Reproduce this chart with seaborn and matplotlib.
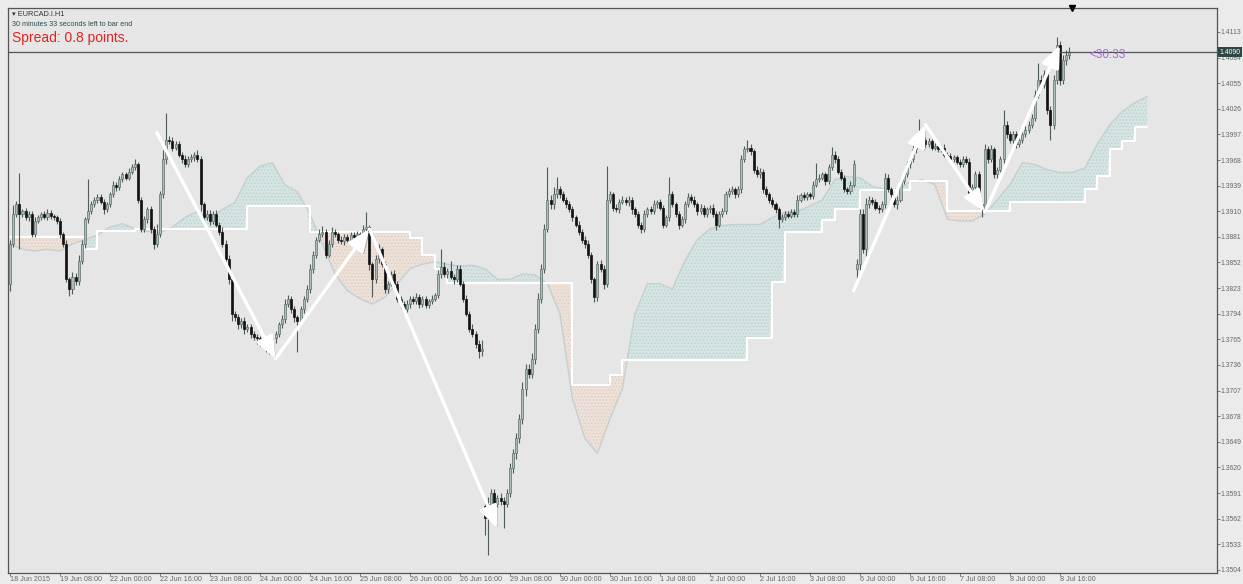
import numpy as np
import matplotlib
matplotlib.use("Agg")
import matplotlib.pyplot as plt
import matplotlib.patheffects as pe
import matplotlib.transforms as mtransforms
import seaborn as sns

# EURCAD.I H1 closes, one value per bar (18 Jun 2015 -> 8 Jul 2015)
closes = [
    1.3873, 1.3907, 1.3918, 1.3907, 1.3910, 1.3903, 1.3907, 1.3884, 1.3899, 1.3903, 1.3907, 1.3903, 1.3908, 1.3905, 1.3903, 1.3899,
    1.3884, 1.3873, 1.3833, 1.3822, 1.3836, 1.3831, 1.3854, 1.3873, 1.3901, 1.3910, 1.3918, 1.3923, 1.3926, 1.3921, 1.3912, 1.3918,
    1.3929, 1.3940, 1.3937, 1.3946, 1.3952, 1.3948, 1.3955, 1.3960, 1.3963, 1.3923, 1.3890, 1.3901, 1.3912, 1.3890, 1.3873, 1.3884,
    1.3929, 1.3969, 1.3991, 1.3989, 1.3982, 1.3986, 1.3974, 1.3969, 1.3963, 1.3969, 1.3971, 1.3974, 1.3969, 1.3918, 1.3903, 1.3907,
    1.3899, 1.3907, 1.3895, 1.3887, 1.3873, 1.3856, 1.3833, 1.3794, 1.3790, 1.3782, 1.3786, 1.3777, 1.3779, 1.3771, 1.3768, 1.3766,
    1.3763, 1.3760, 1.3757, 1.3754, 1.3766, 1.3771, 1.3782, 1.3788, 1.3805, 1.3811, 1.3799, 1.3790, 1.3786, 1.3799, 1.3811, 1.3822,
    1.3845, 1.3861, 1.3878, 1.3884, 1.3887, 1.3861, 1.3873, 1.3887, 1.3884, 1.3878, 1.3876, 1.3881, 1.3878, 1.3883, 1.3881, 1.3884,
    1.3883, 1.3890, 1.3892, 1.3850, 1.3833, 1.3856, 1.3867, 1.3850, 1.3822, 1.3828, 1.3839, 1.3828, 1.3811, 1.3805, 1.3799, 1.3805,
    1.3811, 1.3808, 1.3813, 1.3805, 1.3811, 1.3804, 1.3808, 1.3811, 1.3815, 1.3839, 1.3847, 1.3839, 1.3842, 1.3836, 1.3833, 1.3845,
    1.3828, 1.3811, 1.3794, 1.3777, 1.3771, 1.3760, 1.3752, 1.3754, 1.3563, 1.3579, 1.3591, 1.3579, 1.3585, 1.3582, 1.3579, 1.3591,
    1.3619, 1.3636, 1.3653, 1.3675, 1.3709, 1.3732, 1.3726, 1.3743, 1.3777, 1.3811, 1.3845, 1.3890, 1.3923, 1.3918, 1.3929, 1.3935,
    1.3929, 1.3923, 1.3918, 1.3912, 1.3903, 1.3895, 1.3887, 1.3878, 1.3873, 1.3861, 1.3833, 1.3813, 1.3850, 1.3845, 1.3828, 1.3923,
    1.3929, 1.3914, 1.3912, 1.3921, 1.3923, 1.3920, 1.3923, 1.3912, 1.3907, 1.3895, 1.3890, 1.3907, 1.3912, 1.3910, 1.3918, 1.3920,
    1.3914, 1.3895, 1.3903, 1.3929, 1.3918, 1.3907, 1.3895, 1.3901, 1.3918, 1.3926, 1.3923, 1.3918, 1.3910, 1.3914, 1.3907, 1.3912,
    1.3914, 1.3907, 1.3895, 1.3907, 1.3910, 1.3929, 1.3933, 1.3935, 1.3929, 1.3935, 1.3969, 1.3980, 1.3982, 1.3978, 1.3957, 1.3952,
    1.3955, 1.3935, 1.3929, 1.3923, 1.3918, 1.3912, 1.3901, 1.3903, 1.3907, 1.3905, 1.3909, 1.3907, 1.3923, 1.3928, 1.3926, 1.3929,
    1.3927, 1.3940, 1.3946, 1.3948, 1.3952, 1.3944, 1.3960, 1.3974, 1.3969, 1.3955, 1.3948, 1.3935, 1.3933, 1.3940, 1.3963, 1.3850,
    1.3907, 1.3867, 1.3918, 1.3923, 1.3920, 1.3914, 1.3912, 1.3918, 1.3948, 1.3935, 1.3929, 1.3918, 1.3923, 1.3944, 1.3952, 1.3963,
    1.3969, 1.3980, 1.3989, 1.3997, 1.3991, 1.3986, 1.3989, 1.3982, 1.3984, 1.3980, 1.3982, 1.3974, 1.3972, 1.3969, 1.3971, 1.3966,
    1.3963, 1.3969, 1.3966, 1.3929, 1.3937, 1.3952, 1.3918, 1.3912, 1.3980, 1.3969, 1.3980, 1.3952, 1.3957, 1.3969, 1.4008, 1.3997,
    1.3991, 1.3997, 1.3986, 1.3991, 1.3997, 1.4002, 1.4008, 1.4016, 1.4042, 1.4059, 1.4053, 1.4065, 1.4025, 1.4008, 1.4059, 1.4098,
    1.4059, 1.4081, 1.4087, 1.4090,
]
# wick lengths in pips above / below the body
up_wick = [
    5, 10, 4, 35, 3, 4, 3, 3, 4, 3, 2, 3, 4, 3, 2, 3,
    3, 3, 4, 3, 5, 4, 6, 5, 3, 36, 4, 3, 3, 4, 3, 3,
    3, 4, 3, 4, 3, 3, 4, 3, 6, 3, 3, 4, 3, 4, 3, 12,
    4, 10, 30, 4, 5, 3, 4, 3, 5, 3, 4, 3, 5, 4, 3, 4,
    4, 3, 4, 3, 5, 4, 4, 5, 3, 4, 3, 4, 3, 3, 4, 3,
    3, 4, 3, 4, 3, 4, 3, 4, 6, 4, 3, 4, 3, 4, 3, 4,
    5, 4, 3, 6, 6, 3, 4, 5, 3, 3, 4, 3, 3, 4, 3, 4,
    3, 4, 17, 3, 3, 4, 6, 3, 4, 3, 3, 4, 3, 3, 3, 4,
    3, 3, 4, 3, 3, 3, 3, 4, 3, 4, 20, 5, 4, 12, 3, 4,
    4, 3, 4, 3, 5, 3, 4, 10, 6, 8, 5, 5, 4, 6, 4, 5,
    6, 5, 6, 5, 8, 5, 5, 6, 5, 6, 5, 6, 37, 5, 8, 14,
    4, 4, 3, 4, 4, 3, 4, 3, 4, 4, 3, 3, 4, 5, 4, 38,
    4, 3, 4, 3, 4, 3, 4, 3, 3, 3, 3, 4, 3, 4, 5, 3,
    4, 3, 3, 20, 4, 3, 3, 4, 4, 5, 3, 4, 3, 4, 3, 3,
    3, 4, 3, 3, 4, 4, 3, 4, 3, 4, 5, 4, 9, 4, 3, 4,
    4, 3, 4, 3, 3, 3, 3, 4, 3, 3, 3, 3, 5, 3, 4, 3,
    3, 4, 19, 4, 3, 3, 4, 9, 4, 3, 3, 3, 3, 4, 5, 6,
    6, 5, 7, 4, 3, 4, 3, 4, 5, 4, 3, 3, 4, 4, 3, 4,
    4, 5, 4, 17, 4, 3, 4, 3, 3, 3, 3, 4, 3, 4, 3, 3,
    3, 3, 3, 4, 4, 4, 4, 3, 6, 4, 5, 3, 3, 4, 17, 4,
    4, 4, 4, 3, 4, 4, 4, 4, 5, 19, 5, 5, 4, 4, 5, 9,
    5, 6, 5, 6,
]
low_wick = [
    8, 3, 4, 40, 3, 3, 4, 3, 3, 2, 3, 2, 3, 4, 3, 3,
    4, 3, 3, 8, 6, 4, 5, 4, 5, 4, 3, 3, 4, 3, 5, 3,
    3, 3, 4, 3, 3, 3, 3, 3, 3, 4, 4, 3, 4, 5, 6, 3,
    3, 4, 5, 3, 4, 3, 3, 4, 3, 3, 3, 4, 3, 8, 4, 3,
    4, 3, 3, 4, 3, 4, 5, 8, 4, 5, 4, 6, 4, 5, 4, 6,
    5, 4, 6, 6, 4, 5, 3, 4, 4, 3, 4, 5, 35, 3, 4, 4,
    4, 5, 4, 3, 3, 4, 3, 4, 3, 4, 3, 4, 3, 3, 3, 3,
    3, 3, 3, 6, 20, 4, 5, 3, 5, 4, 3, 4, 4, 5, 4, 3,
    4, 3, 3, 4, 3, 3, 4, 3, 3, 3, 4, 3, 4, 3, 5, 3,
    3, 4, 3, 4, 3, 5, 8, 6, 20, 42, 4, 5, 4, 5, 28, 4,
    5, 5, 6, 5, 6, 8, 5, 5, 6, 5, 5, 5, 4, 5, 6, 4,
    4, 3, 4, 3, 4, 3, 4, 4, 5, 4, 4, 6, 5, 4, 6, 4,
    4, 4, 3, 4, 3, 3, 4, 5, 4, 4, 5, 3, 4, 3, 3, 4,
    3, 4, 3, 4, 3, 4, 5, 3, 4, 3, 4, 3, 4, 3, 4, 4,
    4, 3, 6, 3, 3, 3, 3, 3, 4, 3, 4, 3, 3, 4, 4, 3,
    4, 4, 3, 4, 3, 4, 10, 3, 3, 3, 3, 3, 3, 3, 3, 3,
    3, 3, 3, 3, 3, 4, 3, 3, 4, 3, 3, 3, 3, 3, 3, 15,
    6, 4, 8, 4, 3, 3, 4, 3, 4, 3, 3, 3, 5, 3, 3, 3,
    4, 3, 4, 3, 4, 3, 3, 3, 3, 3, 3, 3, 3, 3, 3, 3,
    3, 3, 3, 4, 4, 3, 4, 8, 4, 4, 3, 4, 4, 3, 4, 4,
    4, 4, 4, 3, 4, 3, 3, 4, 4, 4, 4, 4, 5, 17, 5, 5,
    6, 5, 5, 5,
]
first_open = 1.3828
gap_opens = {152: 1.3576, 271: 1.3845}   # weekend gaps

# Ichimoku cloud, one value every 4 bars (shifted 26 bars forward)
span_a = [
    1.3873, 1.3867, 1.3865, 1.3867, 1.3865, 1.3873, 1.3878, 1.3883, 1.3892, 1.3896,
    1.3890, 1.3887, 1.3886, 1.3892, 1.3903, 1.3910, 1.3901, 1.3912, 1.3920, 1.3948,
    1.3961, 1.3965, 1.3940, 1.3932, 1.3907, 1.3873, 1.3839, 1.3820, 1.3811, 1.3805,
    1.3813, 1.3828, 1.3845, 1.3850, 1.3853, 1.3850, 1.3848, 1.3849, 1.3845, 1.3833,
    1.3833, 1.3839, 1.3838, 1.3828, 1.3794, 1.3698, 1.3653, 1.3636, 1.3675, 1.3709,
    1.3794, 1.3828, 1.3828, 1.3822, 1.3854, 1.3878, 1.3890, 1.3894, 1.3895, 1.3895,
    1.3895, 1.3903, 1.3909, 1.3910, 1.3916, 1.3923, 1.3946, 1.3949, 1.3948, 1.3938,
    1.3935, 1.3935, 1.3943, 1.3946, 1.3940, 1.3901, 1.3899, 1.3899, 1.3907, 1.3923,
    1.3940, 1.3965, 1.3963, 1.3957, 1.3954, 1.3954, 1.3959, 1.3986, 1.4008, 1.4023,
    1.4033, 1.4040,
]
span_b = [
    1.3881, 1.3881, 1.3881, 1.3881, 1.3881, 1.3881, 1.3867, 1.3888, 1.3888, 1.3888,
    1.3890, 1.3890, 1.3890, 1.3890, 1.3890, 1.3890, 1.3890, 1.3890, 1.3890, 1.3916,
    1.3916, 1.3916, 1.3916, 1.3916, 1.3887, 1.3887, 1.3887, 1.3887, 1.3887, 1.3887,
    1.3887, 1.3887, 1.3880, 1.3860, 1.3845, 1.3829, 1.3829, 1.3829, 1.3829, 1.3829,
    1.3829, 1.3829, 1.3829, 1.3829, 1.3829, 1.3713, 1.3713, 1.3713, 1.3725, 1.3742,
    1.3742, 1.3742, 1.3742, 1.3742, 1.3742, 1.3742, 1.3742, 1.3742, 1.3742, 1.3766,
    1.3766, 1.3830, 1.3887, 1.3887, 1.3887, 1.3900, 1.3912, 1.3912, 1.3934, 1.3934,
    1.3934, 1.3934, 1.3944, 1.3944, 1.3944, 1.3910, 1.3910, 1.3910, 1.3910, 1.3910,
    1.3920, 1.3920, 1.3920, 1.3920, 1.3920, 1.3920, 1.3935, 1.3950, 1.3980, 1.3990,
    1.4005, 1.4005,
]
span_step = 4

# hand-drawn zigzag arrows (bar index, price)
zig1_bars = [47, 85, 115, 156]
zig1_prices = [1.3999, 1.3743, 1.3890, 1.3551]
zig2_bars = [270, 293, 312, 336]
zig2_prices = [1.3820, 1.4008, 1.3909, 1.4098]

time_labels = ["18 Jun 2015", "19 Jun 08:00", "22 Jun 00:00", "22 Jun 16:00", "23 Jun 08:00",
               "24 Jun 00:00", "24 Jun 16:00", "25 Jun 08:00", "26 Jun 00:00", "26 Jun 16:00",
               "29 Jun 08:00", "30 Jun 00:00", "30 Jun 16:00", "1 Jul 08:00", "2 Jul 00:00",
               "2 Jul 16:00", "3 Jul 08:00", "6 Jul 00:00", "6 Jul 16:00", "7 Jul 08:00",
               "8 Jul 00:00", "8 Jul 16:00"]
price_ticks = [1.4113, 1.4084, 1.4055, 1.4026, 1.3997, 1.3968, 1.3939, 1.3910, 1.3881, 1.3852,
               1.3823, 1.3794, 1.3765, 1.3736, 1.3707, 1.3678, 1.3649, 1.3620, 1.3591, 1.3562,
               1.3533, 1.3504]

sns.set_theme(style="white")
plt.rcParams["font.family"] = ["Liberation Sans", "DejaVu Sans"]
plt.rcParams["hatch.linewidth"] = 0.35

bg = "#e6e6e6"
fig = plt.figure(figsize=(12.43, 5.84), dpi=100, facecolor="#ebebeb")
ax = fig.add_axes([8 / 1243, 11 / 584, 1209 / 1243, 565 / 584])
ax.set_facecolor(bg)

# cloud
grid = np.arange(len(span_a)) * span_step
sa = np.array(span_a)
sb = np.array(span_b)
xf = np.arange(grid[-1] + 1)
bf = np.repeat(sb, span_step)[:len(xf)]
af = np.interp(xf, grid, sa)
ax.fill_between(xf, af, bf, where=af >= bf, interpolate=True, facecolor="#d5e3e3",
                edgecolor="#b3c9c9", hatch=".....", linewidth=0, zorder=1)
ax.fill_between(xf, af, bf, where=af < bf, interpolate=True, facecolor="#ece0d8",
                edgecolor="#d9c6b8", hatch=".....", linewidth=0, zorder=1)
sns.lineplot(x=grid, y=sa, ax=ax, color="#c4d0d0", lw=1.0, zorder=2)
sns.lineplot(x=grid, y=sb, ax=ax, color="white", lw=1.5, drawstyle="steps-post", zorder=2)

# candles
c = np.array(closes)
o = np.empty_like(c)
o[0] = first_open
o[1:] = c[:-1]
for k, v in gap_opens.items():
    o[k] = v
hi = np.maximum(o, c) + np.array(up_wick) / 1e4
lo = np.minimum(o, c) - np.array(low_wick) / 1e4
x = np.arange(len(c))
bull = c >= o
ax.vlines(x, lo, hi, color="#4f5b59", lw=0.8, zorder=3)
body_h = np.maximum(np.abs(c - o), 0.00006)
ax.bar(x[bull], body_h[bull], bottom=np.minimum(o, c)[bull], width=0.65,
       color="#a9bdb9", edgecolor="#5f706d", lw=0.5, zorder=4)
ax.bar(x[~bull], body_h[~bull], bottom=np.minimum(o, c)[~bull], width=0.65,
       color="#121212", edgecolor="#121212", lw=0.5, zorder=4)

# arrows
for bars, prices in [(zig1_bars, zig1_prices), (zig2_bars, zig2_prices)]:
    for i in range(len(bars) - 1):
        ann = ax.annotate("", xy=(bars[i + 1], prices[i + 1]), xytext=(bars[i], prices[i]),
                          arrowprops=dict(arrowstyle="-|>,head_length=1.1,head_width=0.45",
                                          color="white", lw=2.4, shrinkA=0, shrinkB=0),
                          zorder=6)
        ann.arrow_patch.set_path_effects([pe.SimplePatchShadow(offset=(1.5, -1.5), alpha=0.45),
                                          pe.Normal()])

# current price line and label
last = closes[-1]
ax.axhline(last, color="#4c5656", lw=0.9, zorder=5)
trans = mtransforms.blended_transform_factory(ax.transAxes, ax.transData)
ax.text(1.002, last, f"{last:.4f}", transform=trans, ha="left", va="center", fontsize=4.9,
        color="white", clip_on=False, zorder=10,
        bbox=dict(facecolor="#2d4745", edgecolor="none", pad=1.2))
ax.text(345.5, last - 0.0003, "<30:33", ha="left", va="center", fontsize=8.5, color="#b65ce2", zorder=7)
ttrans = mtransforms.blended_transform_factory(ax.transData, ax.transAxes)
ax.plot([340], [1.0], transform=ttrans, marker="v", color="black", ms=5, clip_on=False, zorder=10)

# axes
ax.set_xlim(-0.64, 386.3)
ax.set_ylim(1.35005, 1.41401)
ax.yaxis.tick_right()
ax.set_yticks(price_ticks)
ax.set_yticklabels([f"{p:.4f}" for p in price_ticks])
ax.set_xticks(np.arange(len(time_labels)) * 16)
ax.set_xticklabels(time_labels, ha="left")
ax.tick_params(axis="both", which="both", direction="out", length=2, width=0.6,
               colors="#666666", labelsize=5.2, pad=0.5)
ax.tick_params(axis="y", labelsize=4.9)
ax.tick_params(axis="y", right=True, left=False)
ax.tick_params(axis="x", bottom=True)
for s in ax.spines.values():
    s.set_color("#555555")
    s.set_linewidth(0.9)

fig.text(12 / 1243, 1 - 15 / 584, "\u25be EURCAD.I.H1", fontsize=5.3, color="#333333", va="center")
fig.text(12 / 1243, 1 - 24 / 584, "30 minutes 33 seconds left to bar end", fontsize=5.2,
         color="#2e4f4f", va="center")
fig.text(12 / 1243, 1 - 38 / 584, "Spread: 0.8 points.", fontsize=10, color="#e02424", va="center")

fig.savefig("out.png", dpi=100, facecolor=fig.get_facecolor())
